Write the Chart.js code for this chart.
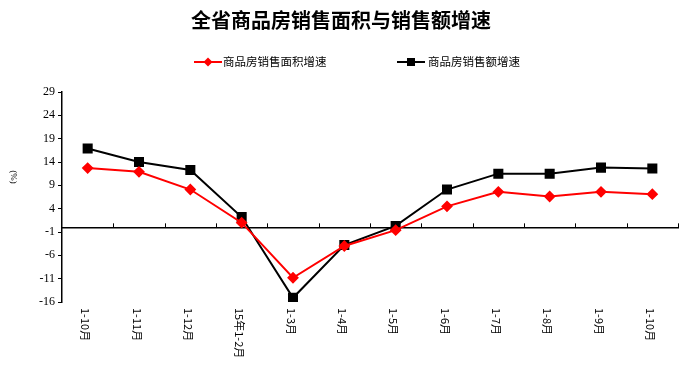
<!DOCTYPE html>
<html>
<head>
<meta charset="utf-8">
<script src="https://cdn.jsdelivr.net/npm/chart.js@4"></script>
<style>
  body { margin: 0; background: #fff; }
  #wrap { width: 693px; height: 386px; }
</style>
</head>
<body>
<div id="wrap"><canvas id="salesChart" width="693" height="386"></canvas></div>
<script>
const months = ['1-10月', '1-11月', '1-12月', '15年1-2月', '1-3月', '1-4月', '1-5月', '1-6月', '1-7月', '1-8月', '1-9月', '1-10月'];
const areaGrowth = [12.7, 11.9, 8.1, 1.0, -10.8, -4.0, -0.6, 4.5, 7.6, 6.6, 7.6, 7.1];
const amountGrowth = [16.9, 14.0, 12.3, 2.2, -15.1, -3.8, 0.3, 8.1, 11.5, 11.5, 12.8, 12.6];
const yTicks = [-16, -11, -6, -1, 4, 9, 14, 19, 24, 29];

const cjk = '"Noto Sans CJK SC", "Noto Sans", sans-serif';

// title, legend, rotated month labels, (%) label
const decor = {
    id: 'decor',
    afterDraw(chart) {
        const ctx = chart.ctx;
        const x = chart.scales.x;
        const y = chart.scales.y;
        const area = chart.chartArea;
        ctx.save();

        ctx.fillStyle = '#000';
        ctx.font = 'bold 20px ' + cjk;
        ctx.textAlign = 'center';
        ctx.textBaseline = 'middle';
        ctx.fillText('全省商品房销售面积与销售额增速', 341, 20);

        // legend
        ctx.font = '11.5px ' + cjk;
        ctx.textAlign = 'left';
        ctx.lineWidth = 2;
        ctx.strokeStyle = '#ff0000';
        ctx.beginPath(); ctx.moveTo(194, 62); ctx.lineTo(222, 62); ctx.stroke();
        ctx.fillStyle = '#ff0000';
        ctx.beginPath();
        ctx.moveTo(208, 57.5); ctx.lineTo(212.5, 62); ctx.lineTo(208, 66.5); ctx.lineTo(203.5, 62);
        ctx.closePath(); ctx.fill();
        ctx.fillStyle = '#000';
        ctx.fillText('商品房销售面积增速', 223, 62);

        ctx.strokeStyle = '#000';
        ctx.beginPath(); ctx.moveTo(397, 62); ctx.lineTo(425, 62); ctx.stroke();
        ctx.fillRect(407, 58, 8, 8);
        ctx.fillText('商品房销售额增速', 428, 62);

        // category tick marks, pointing up from the zero line
        const y0 = y.getPixelForValue(0);
        ctx.lineWidth = 1;
        for (let i = 1; i <= months.length; i++) {
            const tx = Math.round(x.getPixelForValue(i - 0.5)) + 0.5;
            ctx.beginPath(); ctx.moveTo(tx, y0); ctx.lineTo(tx, y0 - 4); ctx.stroke();
        }

        // month labels, rotated clockwise
        ctx.font = '11px ' + cjk;
        ctx.textBaseline = 'middle';
        months.forEach((m, i) => {
            ctx.save();
            ctx.translate(x.getPixelForValue(i) - 2, area.bottom + 6);
            ctx.rotate(Math.PI / 2);
            ctx.fillText(m, 0, 0);
            ctx.restore();
        });

        // unit label
        ctx.font = '9px "Liberation Serif", serif';
        ctx.save();
        ctx.translate(13, 177);
        ctx.rotate(Math.PI / 2);
        ctx.textAlign = 'center';
        ctx.fillText('(%)', 0, 0);
        ctx.restore();

        ctx.restore();
    }
};

const ctx1 = document.getElementById('salesChart').getContext('2d');
const salesChart = new Chart(ctx1, {
    type: 'line',
    data: {
        labels: months,
        datasets: [{
            label: '商品房销售面积增速',
            data: areaGrowth,
            borderColor: '#ff0000',
            backgroundColor: '#ff0000',
            borderWidth: 2,
            pointStyle: 'rectRot',
            pointRadius: 4.5,
            pointHoverRadius: 4.5,
            tension: 0
        },
        {
            label: '商品房销售额增速',
            data: amountGrowth,
            borderColor: '#000000',
            backgroundColor: '#000000',
            borderWidth: 2,
            pointStyle: 'rect',
            pointRadius: 5.7,
            pointHoverRadius: 5.7,
            tension: 0
        }]
    },
    options: {
        responsive: false,
        animation: false,
        layout: { padding: { top: 92, right: 15, bottom: 84, left: 0 } },
        plugins: {
            legend: { display: false },
            tooltip: { enabled: false },
            title: { display: false }
        },
        scales: {
            x: {
                position: { y: 0 },
                offset: true,
                grid: { display: false },
                border: { color: '#000', width: 1.5 },
                ticks: { display: false }
            },
            y: {
                min: -16,
                max: 29,
                afterBuildTicks: (scale) => { scale.ticks = yTicks.map(v => ({ value: v })); },
                afterFit: (scale) => { scale.width = 62; },
                grid: { drawOnChartArea: false, color: '#000', tickLength: 4 },
                border: { color: '#000', width: 1.5 },
                ticks: {
                    color: '#000',
                    padding: 3,
                    font: { family: '"Liberation Serif", serif', size: 12 }
                }
            }
        }
    },
    plugins: [decor]
});
</script>
</body>
</html>
